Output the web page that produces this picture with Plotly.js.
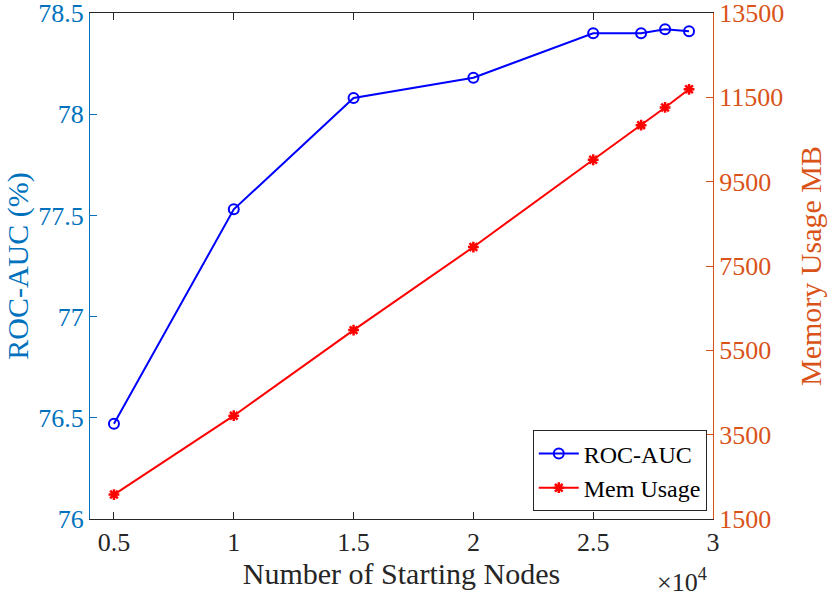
<!DOCTYPE html>
<html><head><meta charset="utf-8">
<script src="https://cdn.plot.ly/plotly-3.0.1.min.js"></script>
<style>html,body{margin:0;padding:0;background:#fff}#c{width:830px;height:596px}</style>
</head><body><div id="c"></div>
<script>
const nodes = [5000, 10000, 15000, 20000, 25000, 27000, 28000, 29000];
const rocAuc = [76.47, 77.53, 78.08, 78.18, 78.40, 78.40, 78.42, 78.41];
const memUsage = [2080, 3950, 5980, 7950, 10020, 10840, 11260, 11690];
const xTickVals = [5000, 10000, 15000, 20000, 25000, 30000];
const xTickText = ['0.5', '1', '1.5', '2', '2.5', '3'];
const leftTicks = [76, 76.5, 77, 77.5, 78, 78.5];
const rightTicks = [1500, 3500, 5500, 7500, 9500, 11500, 13500];

const blueAx = '#0072BD', orangeAx = '#D95319', dark = '#262626';
const font = '"Liberation Serif", "Times New Roman", serif';

const traces = [
  {x: nodes, y: rocAuc, name: 'ROC-AUC', type: 'scatter', mode: 'lines+markers',
   line: {color: '#0000FF', width: 2},
   marker: {symbol: 'circle-open', size: 10, color: '#0000FF', line: {width: 2, color: '#0000FF'}}},
  {x: nodes, y: memUsage, name: 'Mem Usage', type: 'scatter', mode: 'lines+markers', yaxis: 'y2',
   line: {color: '#FF0000', width: 2},
   marker: {symbol: 'asterisk-open', size: 9, color: '#FF0000', line: {width: 2.5, color: '#FF0000'}}}
];

const layout = {
  width: 830, height: 596,
  margin: {l: 90, r: 117, t: 13, b: 77},
  paper_bgcolor: '#fff', plot_bgcolor: '#fff',
  font: {family: font, size: 26, color: dark},
  showlegend: true,
  legend: {x: 0.99, xanchor: 'right', y: 0.015, yanchor: 'bottom',
           bordercolor: dark, borderwidth: 1, bgcolor: '#fff',
           font: {family: font, size: 24, color: '#000'}, tracegroupgap: 0, itemwidth: 40},
  xaxis: {range: [4000, 30000.5], tickvals: xTickVals, ticktext: xTickText,
          ticks: 'inside', ticklen: 7, tickcolor: dark, tickwidth: 1,
          showline: true, linecolor: dark, linewidth: 1, mirror: 'ticks',
          showgrid: false, zeroline: false,
          tickfont: {family: font, size: 26, color: dark},
          title: {text: 'Number of Starting Nodes', font: {family: font, size: 30, color: dark}, standoff: 4}},
  yaxis: {range: [75.9999, 78.5001], tickvals: leftTicks, ticks: 'inside', ticklen: 7,
          tickcolor: blueAx, showline: true, linecolor: blueAx, linewidth: 1,
          showgrid: false, zeroline: false, ticklabeloverflow: 'allow',
          tickfont: {family: font, size: 26, color: blueAx},
          title: {text: 'ROC-AUC (%)', font: {family: font, size: 30, color: blueAx}, standoff: 0}},
  yaxis2: {range: [1499.9, 13500.1], tickvals: rightTicks, tickformat: 'd', overlaying: 'y', side: 'right',
           ticks: 'inside', ticklen: 7, tickcolor: orangeAx, showline: true, linecolor: orangeAx, linewidth: 1,
           showgrid: false, zeroline: false, ticklabeloverflow: 'allow',
           tickfont: {family: font, size: 26, color: orangeAx},
           title: {text: 'Memory Usage MB', font: {family: font, size: 30, color: orangeAx}, standoff: 16}},
  annotations: [{xref: 'paper', yref: 'paper', x: 1.0, y: -0.122, xanchor: 'right', yanchor: 'middle', xshift: -4,
                 text: '×10<sup>4</sup>', showarrow: false, font: {family: font, size: 26, color: dark}}]
};

Plotly.newPlot('c', traces, layout, {displayModeBar: false, staticPlot: true});
</script></body></html>
